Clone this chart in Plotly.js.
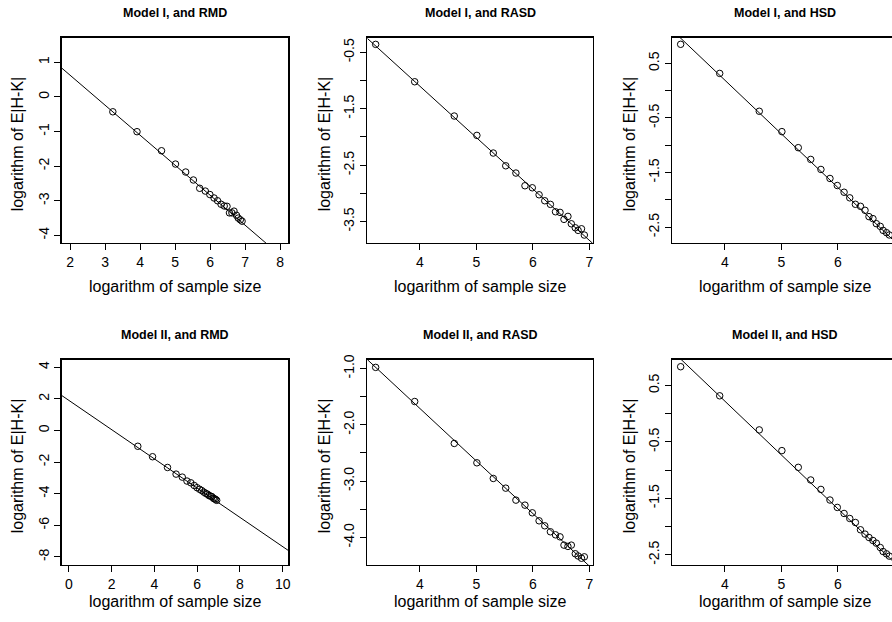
<!DOCTYPE html>
<html>
<head>
<meta charset="utf-8">
<script src="https://cdn.plot.ly/plotly-3.0.1.min.js"></script>
<style>
  html, body { margin: 0; padding: 0; overflow: hidden; background: #ffffff; }
  #chart { width: 898px; height: 622px; }
</style>
</head>
<body>
<div id="chart"></div>
<script>
// ---- data ----
const logSampleSize = [3.22, 3.91, 4.61, 5.01, 5.30, 5.52, 5.70, 5.86, 5.99, 6.11, 6.21, 6.31, 6.40, 6.48, 6.55, 6.62, 6.68, 6.75, 6.80, 6.86, 6.91];

const model1RMD  = [-0.43, -1.005, -1.555, -1.94, -2.17, -2.40, -2.64, -2.72, -2.82, -2.92, -3.00, -3.10, -3.15, -3.16, -3.35, -3.35, -3.30, -3.42, -3.50, -3.55, -3.59];
const model1RASD = [-0.358, -1.021, -1.629, -1.972, -2.285, -2.511, -2.640, -2.865, -2.901, -3.025, -3.131, -3.195, -3.326, -3.337, -3.461, -3.408, -3.539, -3.610, -3.656, -3.628, -3.739];
const model1HSD  = [0.849, 0.316, -0.377, -0.75, -1.044, -1.259, -1.443, -1.608, -1.737, -1.860, -1.963, -2.081, -2.118, -2.191, -2.307, -2.344, -2.436, -2.485, -2.559, -2.601, -2.643];
const model2RMD  = [-1.00, -1.66, -2.34, -2.76, -2.95, -3.20, -3.31, -3.48, -3.62, -3.72, -3.80, -3.90, -3.98, -4.03, -4.12, -4.15, -4.18, -4.28, -4.32, -4.36, -4.42];
const model2RASD = [-0.98, -1.586, -2.331, -2.675, -2.953, -3.125, -3.338, -3.427, -3.563, -3.705, -3.794, -3.90, -3.954, -3.99, -4.137, -4.16, -4.137, -4.29, -4.33, -4.37, -4.345];
const model2HSD  = [0.832, 0.317, -0.287, -0.654, -0.950, -1.174, -1.341, -1.529, -1.660, -1.767, -1.856, -1.927, -2.056, -2.133, -2.193, -2.246, -2.293, -2.37, -2.442, -2.482, -2.523];

const panelTitles = ["Model I, and RMD", "Model I, and RASD", "Model I, and HSD",
                     "Model II, and RMD", "Model II, and RASD", "Model II, and HSD"];
const fitIntercepts = [2.36, 2.55, 4.13, 1.90, 2.028, 4.04];
const fitSlopes     = [-0.867, -0.912, -0.984, -0.925, -0.934, -0.954];

const xTickVals = [[2,3,4,5,6,7,8], [4,5,6,7], [4,5,6,7], [0,2,4,6,8,10], [4,5,6,7], [4,5,6,7]];
const xTickText = [["2","3","4","5","6","7","8"], ["4","5","6","7"], ["4","5","6","7"], ["0","2","4","6","8","10"], ["4","5","6","7"], ["4","5","6","7"]];
const yTickVals = [
  [-4,-3,-2,-1,0,1],
  [-3.5,-3,-2.5,-2,-1.5,-1,-0.5],
  [-2.5,-2,-1.5,-1,-0.5,0,0.5],
  [-8,-6,-4,-2,0,2,4],
  [-4,-3.5,-3,-2.5,-2,-1.5,-1],
  [-2.5,-2,-1.5,-1,-0.5,0,0.5]
];
const yTickText = [
  ["-4","-3","-2","-1","0","1"],
  ["-3.5","","-2.5","","-1.5","","-0.5"],
  ["-2.5","","-1.5","","-0.5","","0.5"],
  ["-8","-6","-4","-2","0","2","4"],
  ["-4.0","","-3.0","","-2.0","","-1.0"],
  ["-2.5","","-1.5","","-0.5","","0.5"]
];
const xTitle = "logarithm of sample size";
const yTitle = "logarithm of E|H-K|";

// ---- layout geometry ----
const W = 898, H = 622;
const colX = [[61.7, 288.3], [367.3, 592.7], [672.3, 897.7]];
const rowY = [[37.7, 243], [359.5, 565]];
const xRanges = [[1.76, 8.23], [3.072, 7.058], [3.072, 7.058], [-0.34, 10.26], [3.072, 7.058], [3.072, 7.058]];
const yRanges = [[-4.22, 1.71], [-3.88, -0.24], [-2.79, 0.97], [-8.51, 4.49], [-4.49, -0.84], [-2.68, 0.96]];
const titleY = [13, 335];
const xTitleY = [286, 601];
const yTitleX = [17, 324, 629];

const seriesList = [model1RMD, model1RASD, model1HSD, model2RMD, model2RASD, model2HSD];
const FONT = "Liberation Sans, Arial, Helvetica, sans-serif";

const traces = [];
const layout = {
  width: W, height: H,
  margin: {l: 0, r: 0, t: 0, b: 0},
  paper_bgcolor: "#ffffff", plot_bgcolor: "#ffffff",
  showlegend: false,
  annotations: [],
  font: {family: FONT, color: "#000000"}
};

for (let i = 0; i < 6; i++) {
  const r = Math.floor(i / 3), c = i % 3;
  const sfx = i === 0 ? "" : String(i + 1);
  const xa = "x" + sfx, ya = "y" + sfx;
  // points
  traces.push({
    type: "scatter", mode: "markers", x: logSampleSize, y: seriesList[i],
    xaxis: xa, yaxis: ya,
    marker: {symbol: "circle-open", size: 6.5, color: "#000000", line: {width: 1, color: "#000000"}},
    hoverinfo: "skip"
  });
  // fitted line across the axis range
  const lx = xRanges[i];
  traces.push({
    type: "scatter", mode: "lines", x: lx, y: lx.map(v => fitIntercepts[i] + fitSlopes[i] * v),
    xaxis: xa, yaxis: ya,
    line: {color: "#000000", width: 1},
    hoverinfo: "skip"
  });
  const common = {
    showgrid: false, zeroline: false, showline: true, mirror: true,
    linecolor: "#000000", linewidth: 1.3,
    ticks: "outside", ticklen: 6, tickwidth: 1, tickcolor: "#000000",
    tickmode: "array", fixedrange: true,
    tickfont: {family: FONT, size: 14, color: "#000000"}
  };
  layout["xaxis" + sfx] = Object.assign({}, common, {
    domain: [colX[c][0] / W, colX[c][1] / W],
    range: xRanges[i], anchor: ya,
    tickvals: xTickVals[i], ticktext: xTickText[i], tickangle: 0
  });
  layout["yaxis" + sfx] = Object.assign({}, common, {
    domain: [1 - rowY[r][1] / H, 1 - rowY[r][0] / H],
    range: yRanges[i], anchor: xa,
    tickvals: yTickVals[i], ticktext: yTickText[i], tickangle: -90
  });
  const cx = (colX[c][0] + colX[c][1]) / 2;
  const cy = (rowY[r][0] + rowY[r][1]) / 2;
  layout.annotations.push({
    xref: "paper", yref: "paper", x: cx / W, y: 1 - titleY[r] / H,
    xanchor: "center", yanchor: "middle", showarrow: false,
    text: "<b>" + panelTitles[i] + "</b>",
    font: {family: FONT, size: 12.5, color: "#000000"}
  });
  layout.annotations.push({
    xref: "paper", yref: "paper", x: cx / W, y: 1 - xTitleY[r] / H,
    xanchor: "center", yanchor: "middle", showarrow: false,
    text: xTitle, font: {family: FONT, size: 16, color: "#000000"}
  });
  layout.annotations.push({
    xref: "paper", yref: "paper", x: yTitleX[c] / W, y: 1 - (cy + 4) / H,
    xanchor: "center", yanchor: "middle", showarrow: false, textangle: -90,
    text: yTitle, font: {family: FONT, size: 16, color: "#000000"}
  });
}

Plotly.newPlot("chart", traces, layout, {displayModeBar: false, staticPlot: true});
</script>
</body>
</html>
